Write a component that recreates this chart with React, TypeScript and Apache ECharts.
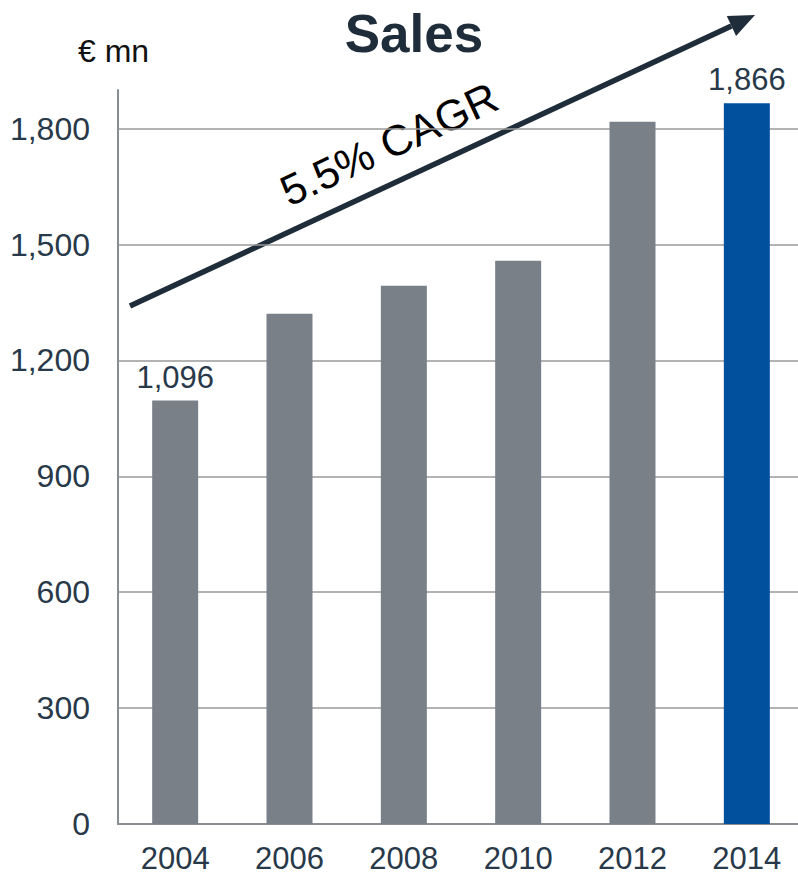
import React, { useEffect, useRef } from "react";
import * as echarts from "echarts";

const years = ["2004", "2006", "2008", "2010", "2012", "2014"];
const sales = [1096, 1321, 1393, 1458, 1818, 1866];
const labelledYears = ["2004", "2014"];
const highlightYear = "2014";
const yTicks = { min: 0, max: 1900, interval: 300 };
const titleText = "Sales";
const unitText = "€ mn";
const cagrText = "5.5% CAGR";

const GRAY = "#7a8087";
const BLUE = "#00509e";
const TEXT = "#28394a";
const DARK = "#1f2d3a";

export default function App() {
  const ref = useRef<HTMLDivElement>(null);
  useEffect(() => {
    if (!ref.current) return;
    const chart = echarts.init(ref.current, undefined, { renderer: "svg" });
    const font = "Liberation Sans, Arial, sans-serif";
    // arrow geometry
    const x1 = 130, y1 = 306, x2 = 755, y2 = 15;
    const ang = Math.atan2(y2 - y1, x2 - x1);
    const headLen = 26, headW = 11;
    const bx = x2 - headLen * Math.cos(ang), by = y2 - headLen * Math.sin(ang);
    const px = -Math.sin(ang), py = Math.cos(ang);
    chart.setOption({
      animation: false,
      grid: { left: 118, width: 686, top: 90, bottom: 52, outerBoundsMode: "none", containLabel: false },
      title: {
        text: titleText,
        left: 409,
        top: 2,
        textAlign: "center",
        textStyle: { fontFamily: font, fontSize: 53, fontWeight: "bold", color: DARK },
      },
      xAxis: {
        type: "category",
        data: years,
        axisLine: { lineStyle: { color: "#8a8e92", width: 2 } },
        axisTick: { show: false },
        axisLabel: { color: TEXT, fontSize: 31, lineHeight: 31, fontFamily: font, margin: 19 },
      },
      yAxis: {
        type: "value",
        min: yTicks.min,
        max: yTicks.max,
        interval: yTicks.interval,
        axisLine: { show: true, lineStyle: { color: "#8a8e92", width: 2 } },
        axisTick: { show: false },
        axisLabel: {
          color: TEXT,
          fontSize: 32,
          fontFamily: font,
          margin: 28,
          showMaxLabel: false,
          formatter: (v: number) => (v === yTicks.max ? "" : v.toLocaleString("en-US")),
        },
        splitLine: { show: true, showMaxLine: false, lineStyle: { color: "#9a9a9a", width: 1.5 } },
      },
      series: [
        {
          type: "bar",
          barWidth: 46,
          data: sales.map((v, i) => ({
            value: v,
            itemStyle: { color: years[i] === highlightYear ? BLUE : GRAY },
            label: {
              show: labelledYears.includes(years[i]),
              position: "top",
              distance: 8,
              color: TEXT,
              fontSize: 31,
              fontFamily: font,
              formatter: (p: any) => Number(p.value).toLocaleString("en-US"),
            },
          })),
        },
      ],
      graphic: [
        {
          type: "text",
          left: 78,
          top: 35,
          style: { text: unitText, fontSize: 32, fontFamily: font, fill: "#111" },
        },
        {
          type: "line",
          shape: { x1, y1, x2: bx, y2: by },
          style: { stroke: DARK, lineWidth: 5.5 },
        },
        {
          type: "polygon",
          shape: {
            points: [
              [x2, y2],
              [bx + px * headW, by + py * headW],
              [bx - px * headW, by - py * headW],
            ],
          },
          style: { fill: DARK },
        },
        {
          type: "text",
          x: 389,
          y: 144,
          rotation: -ang,
          style: {
            text: cagrText,
            fontSize: 43,
            fontFamily: font,
            fill: "#000",
            align: "center",
            verticalAlign: "middle",
          },
        },
      ],
    });
    return () => chart.dispose();
  }, []);
  return <div ref={ref} style={{ width: 798, height: 876, position: "absolute", left: 0, top: 0 }} />;
}
